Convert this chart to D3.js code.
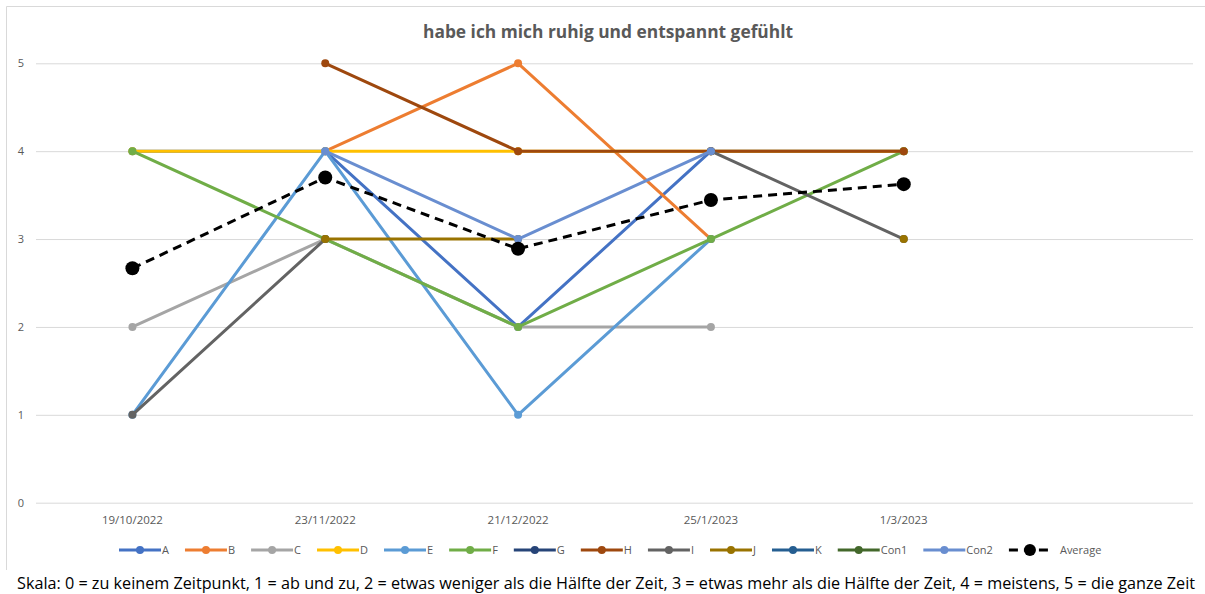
<!DOCTYPE html>
<meta charset="utf-8" />
<style>
  body { margin: 0; background: #fff; }
  svg text { font-family: "Open Sans", "Liberation Sans", sans-serif; }
  .grid line { stroke: #d9d9d9; stroke-width: 1px; }
  .grid .domain { display: none; }
  .line { fill: none; stroke-width: 3px; stroke-linejoin: round; }
</style>
<body>
<div id="chart"></div>
<script src="https://d3js.org/d3.v7.min.js"></script>
<script>
  // categories (the last slot is empty in the original chart)
  var dates = ["19/10/2022", "23/11/2022", "21/12/2022", "25/1/2023", "1/3/2023"];
  var yTicks = [0, 1, 2, 3, 4, 5];

  // one array per participant, null = no answer
  var A    = [4, 4, 2, 4, 4];
  var B    = [null, 4, 5, 3, null];
  var C    = [2, 3, 2, 2, null];
  var D    = [4, 4, 4, 4, 4];
  var E    = [1, 4, 1, 3, null];
  var F    = [4, 3, 2, 3, 4];
  var G    = [null, null, null, null, null];
  var H    = [null, 5, 4, 4, 4];
  var I    = [1, 3, null, 4, 3];
  var J    = [null, 3, 3, null, 3];
  var K    = [null, null, null, null, null];
  var Con1 = [null, null, null, null, null];
  var Con2 = [null, 4, 3, 4, null];
  var Average = [2.667, 3.7, 2.889, 3.444, 3.625];

  var names  = ["A", "B", "C", "D", "E", "F", "G", "H", "I", "J", "K", "Con1", "Con2"];
  var values = [A, B, C, D, E, F, G, H, I, J, K, Con1, Con2];
  var colors = ["#4472c4", "#ed7d31", "#a5a5a5", "#ffc000", "#5b9bd5", "#70ad47",
                "#264478", "#9e480e", "#636363", "#997300", "#255e91", "#43682b", "#698ed0"];

  var title = "habe ich mich ruhig und entspannt gefühlt";
  var caption = "Skala: 0 = zu keinem Zeitpunkt, 1 = ab und zu, 2 = etwas weniger als die Hälfte der Zeit, 3 = etwas mehr als die Hälfte der Zeit, 4 = meistens, 5 = die ganze Zeit";

  var W = 1205, H_ = 594;
  var plot = { left: 36, right: 1193, top: 63.3, bottom: 502.7 };

  var svg = d3.select("#chart").append("svg")
    .attr("width", W).attr("height", H_);

  // chart border (left + top only visible)
  svg.append("path")
    .attr("d", "M6.5,570 V6.5 H1205")
    .attr("fill", "none").attr("stroke", "#d9d9d9").attr("stroke-width", 1);

  var x = d3.scaleBand().domain(dates.concat([" "])).range([plot.left, plot.right]);
  var cx = function (i) { return x(dates[i]) + x.bandwidth() / 2; };
  var y = d3.scaleLinear().domain([0, 5]).range([plot.bottom, plot.top]);

  // gridlines + y labels
  var gy = svg.append("g").attr("class", "grid")
    .attr("transform", "translate(" + plot.left + ",0)")
    .call(d3.axisLeft(y).tickValues(yTicks).tickFormat(d3.format("d"))
      .tickSize(-(plot.right - plot.left)).tickPadding(12));
  gy.selectAll("text").attr("fill", "#595959").style("font-size", "11px");

  // x labels
  var gx = svg.append("g")
    .attr("transform", "translate(0," + plot.bottom + ")")
    .call(d3.axisBottom(x).tickSize(0).tickPadding(13));
  gx.select(".domain").remove();
  gx.selectAll("text").attr("fill", "#595959").style("font-size", "11.5px");

  // title
  svg.append("text")
    .attr("x", 608).attr("y", 38)
    .attr("text-anchor", "middle")
    .attr("textLength", 370).attr("lengthAdjust", "spacingAndGlyphs")
    .style("font-size", "18px").style("font-weight", "bold")
    .attr("fill", "#595959")
    .text(title);

  var line = d3.line()
    .defined(function (d) { return d != null; })
    .x(function (d, i) { return cx(i); })
    .y(function (d) { return y(d); });

  // participant series
  values.forEach(function (vals, k) {
    var g = svg.append("g");
    g.append("path").datum(vals)
      .attr("class", "line")
      .attr("stroke", colors[k])
      .attr("d", line);
    g.selectAll("circle")
      .data(vals.map(function (v, i) { return { v: v, i: i }; }).filter(function (d) { return d.v != null; }))
      .enter().append("circle")
      .attr("cx", function (d) { return cx(d.i); })
      .attr("cy", function (d) { return y(d.v); })
      .attr("r", 4)
      .attr("fill", colors[k]);
  });

  // average
  var ga = svg.append("g");
  ga.append("path").datum(Average)
    .attr("class", "line")
    .attr("stroke", "#000")
    .attr("stroke-dasharray", "9,6")
    .attr("d", line);
  ga.selectAll("circle").data(Average).enter().append("circle")
    .attr("cx", function (d, i) { return cx(i); })
    .attr("cy", function (d) { return y(d); })
    .attr("r", 7)
    .attr("fill", "#000");

  // legend
  var legNames = names.concat(["Average"]);
  var legColors = colors.concat(["#000"]);
  var leg = svg.append("g").attr("transform", "translate(0,550)");
  var lx = 119;
  legNames.forEach(function (n, k) {
    var it = leg.append("g").attr("transform", "translate(" + lx + ",0)");
    var avg = n === "Average";
    it.append("line")
      .attr("x1", 0).attr("x2", 42).attr("y1", 0).attr("y2", 0)
      .attr("stroke", legColors[k]).attr("stroke-width", 3)
      .attr("stroke-dasharray", avg ? "9,6" : null);
    it.append("circle").attr("cx", 21).attr("cy", 0)
      .attr("r", avg ? 6 : 4).attr("fill", legColors[k]);
    var t = it.append("text")
      .attr("x", avg ? 51 : 43).attr("y", 4)
      .attr("fill", "#595959").style("font-size", "11px")
      .text(n);
    lx += (avg ? 51 : 43) + t.node().getComputedTextLength() + 16;
  });

  // caption under the chart
  svg.append("text")
    .attr("x", 17).attr("y", 589)
    .attr("textLength", 1178).attr("lengthAdjust", "spacingAndGlyphs")
    .attr("fill", "#000").style("font-size", "16px")
    .text(caption);
</script>
</body>
